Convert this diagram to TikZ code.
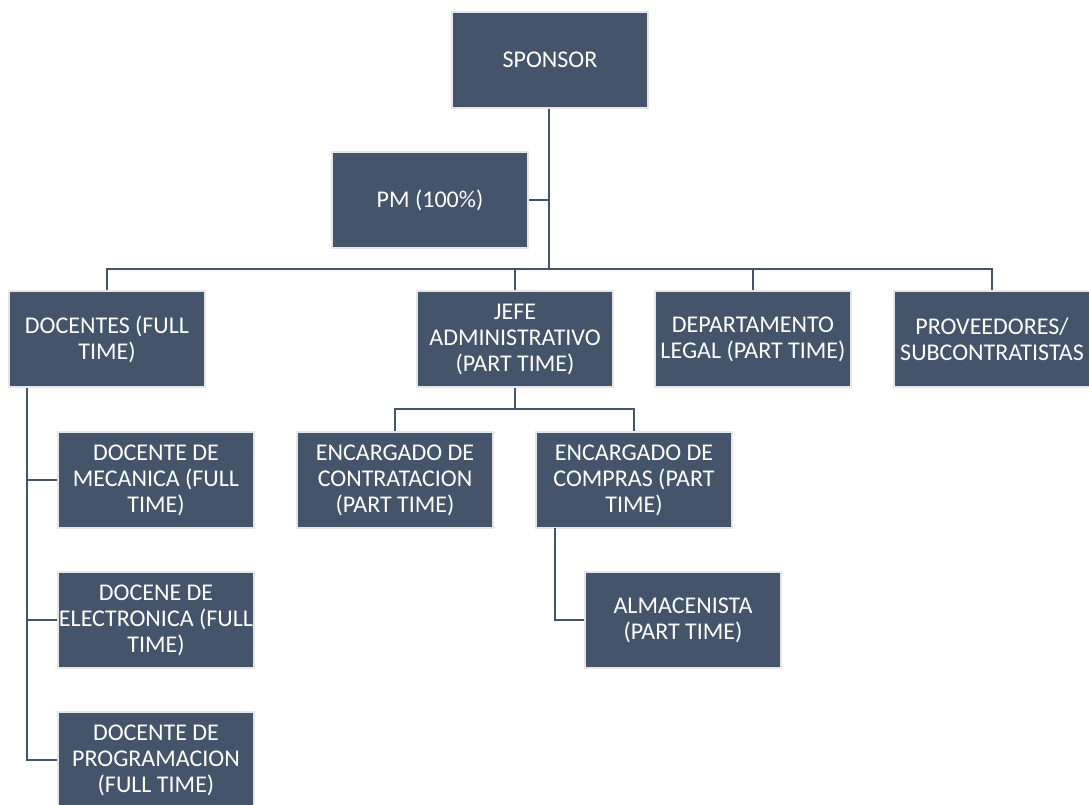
\documentclass[tikz,border=0pt]{standalone}
\usepackage{fontspec}
\setmainfont{Carlito}
\usepackage{tikz}
\definecolor{slate}{HTML}{44546A}
\definecolor{rim}{HTML}{E7E6E6}

\begin{document}
\begin{tikzpicture}[x=1pt,y=-1pt,
    box/.style={fill=slate,draw=rim,line width=1.5pt,text=white,
      minimum width=196pt,minimum height=96pt,inner sep=0pt,align=center,
      font=\fontsize{24}{26}\selectfont},
    conn/.style={draw=slate,line width=2.5pt}]
    \useasboundingbox (0,0) rectangle (1089,804);
    \node at (550,60)[box] (sponsor){SPONSOR};
    \node at (430,200)[box] (pm){PM (100\%)};
    \node at (107,339)[box] (docentes){DOCENTES (FULL\\TIME)};
    \node at (515,339)[box] (jefe){JEFE\\ADMINISTRATIVO\\(PART TIME)};
    \node at (753,339)[box] (legal){DEPARTAMENTO\\LEGAL (PART TIME)};
    \node at (992,339)[box] (prov){PROVEEDORES/\\SUBCONTRATISTAS};
    \node at (156,480)[box] (mec){DOCENTE DE\\MECANICA (FULL\\TIME)};
    \node at (156,620)[box] (elec){DOCENE DE\\ELECTRONICA (FULL\\TIME)};
    \node at (156,760)[box] (prog){DOCENTE DE\\PROGRAMACION\\(FULL TIME)};
    \node at (395,480)[box] (contr){ENCARGADO DE\\CONTRATACION\\(PART TIME)};
    \node at (634,480)[box] (compras){ENCARGADO DE\\COMPRAS (PART\\TIME)};
    \node at (683,620)[box] (alm){ALMACENISTA\\(PART TIME)};
    \coordinate (bus) at (549,269);
    \coordinate (jbus) at (515,409);
    \coordinate (dtop) at (27,388);
    \coordinate (ctop) at (555,528);
    \draw[conn] (sponsor.south -| bus) -- (bus);
    \draw[conn] (pm.east) -- (pm.east -| bus);
    \draw[conn] (docentes.north) -- (docentes.north |- bus) -- (prov.north |- bus) -- (prov.north);
    \draw[conn] (jefe.north) -- (jefe.north |- bus);
    \draw[conn] (legal.north) -- (legal.north |- bus);
    \draw[conn] (dtop) |- (prog.west);
    \draw[conn] (dtop |- mec.west) -- (mec.west);
    \draw[conn] (dtop |- elec.west) -- (elec.west);
    \draw[conn] (jefe.south) -- (jbus);
    \draw[conn] (contr.north) -- (contr.north |- jbus) -- (compras.north |- jbus) -- (compras.north);
    \draw[conn] (ctop) |- (alm.west);
  \end{tikzpicture}
\end{document}
